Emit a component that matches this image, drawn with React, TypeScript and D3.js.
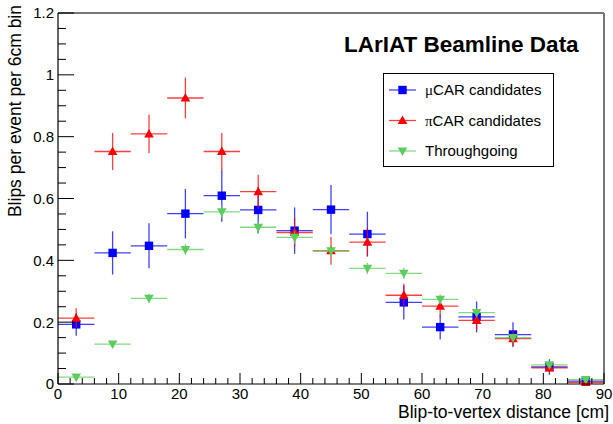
import React from "react";
import * as d3 from "d3";

const binEdges = [0, 6, 12, 18, 24, 30, 36, 42, 48, 54, 60, 66, 72, 78, 84, 90];
const binCenters = [3, 9, 15, 21, 27, 33, 39, 45, 51, 57, 63, 69, 75, 81, 87];

const muValues = [0.193, 0.424, 0.447, 0.551, 0.609, 0.563, 0.496, 0.564, 0.485, 0.264, 0.184, 0.217, 0.16, 0.055, 0.009];
const muErrors = [0.037, 0.07, 0.073, 0.08, 0.084, 0.075, 0.075, 0.08, 0.072, 0.055, 0.04, 0.05, 0.04, 0.025, 0.008];

const piValues = [0.213, 0.752, 0.809, 0.925, 0.752, 0.622, 0.49, 0.431, 0.459, 0.287, 0.252, 0.206, 0.147, 0.052, 0.005];
const piErrors = [0.032, 0.06, 0.063, 0.066, 0.06, 0.055, 0.047, 0.045, 0.047, 0.037, 0.033, 0.03, 0.025, 0.015, 0.006];

const thValues = [0.022, 0.129, 0.277, 0.435, 0.557, 0.507, 0.474, 0.431, 0.374, 0.358, 0.274, 0.231, 0.15, 0.062, 0.014];
const thErrors = [0.006, 0.01, 0.015, 0.018, 0.02, 0.02, 0.022, 0.02, 0.018, 0.018, 0.016, 0.014, 0.012, 0.008, 0.004];

const xTicks = [0, 10, 20, 30, 40, 50, 60, 70, 80, 90];
const yTicks = [0, 0.2, 0.4, 0.6, 0.8, 1, 1.2];
const yTickLabels = ["0", "0.2", "0.4", "0.6", "0.8", "1", "1.2"];

const seriesNames = ["\u03bcCAR candidates", "\u03c0CAR candidates", "Throughgoing"];
const titleText = "LArIAT Beamline Data";
const xTitle = "Blip-to-vertex distance [cm]";
const yTitle = "Blips per event per 6cm bin";

const W = 613;
const H = 424;
const L = 58;
const R = 604;
const T = 13;
const B = 384;

const FONT = "'Liberation Sans', Arial, Helvetica, sans-serif";
const COLORS = ["#0000ff", "#ff0000", "#5ccc5c"];

function Marker({ kind, x, y, color }: { kind: number; x: number; y: number; color: string }) {
  const s = 4.2;
  if (kind === 0) {
    return <rect x={x - s} y={y - s} width={2 * s} height={2 * s} fill={color} />;
  }
  if (kind === 1) {
    return <path d={`M${x},${y - s - 0.8}L${x + s + 0.6},${y + s - 0.6}L${x - s - 0.6},${y + s - 0.6}Z`} fill={color} />;
  }
  return <path d={`M${x},${y + s + 0.8}L${x + s + 0.6},${y - s + 0.6}L${x - s - 0.6},${y - s + 0.6}Z`} fill={color} />;
}

export default function App() {
  const x = d3.scaleLinear().domain([0, 90]).range([L, R]);
  const y = d3.scaleLinear().domain([0, 1.2]).range([B, T]);

  const series = [
    { vals: muValues, errs: muErrors },
    { vals: piValues, errs: piErrors },
    { vals: thValues, errs: thErrors },
  ];

  const xMinor = d3.range(0, 90.001, 2);
  const yMinor = d3.range(0, 1.2001, 0.05);

  return (
    <svg width={W} height={H} style={{ position: "absolute", left: 0, top: 0, background: "#fff" }} fontFamily={FONT}>
      <rect x={0} y={0} width={W} height={H} fill="#fff" />
      {series.map((s, si) => (
        <g key={si}>
          {s.vals.map((v, i) => {
            const c = COLORS[si];
            return (
              <g key={i}>
                <line x1={x(binEdges[i])} x2={x(binEdges[i + 1])} y1={y(v)} y2={y(v)} stroke={c} strokeWidth={1.3} strokeOpacity={0.75} />
                <line x1={x(binCenters[i])} x2={x(binCenters[i])} y1={y(v - s.errs[i])} y2={y(Math.min(v + s.errs[i], 1.2))} stroke={c} strokeWidth={1.3} strokeOpacity={0.75} />
                <Marker kind={si} x={x(binCenters[i])} y={y(v)} color={c} />
              </g>
            );
          })}
        </g>
      ))}
      <line x1={L} x2={R} y1={T} y2={T} stroke="#777" strokeWidth={2} />
      <line x1={R} x2={R} y1={T} y2={B} stroke="#777" strokeWidth={2} />
      <line x1={L} x2={L} y1={T} y2={B} stroke="#000" strokeWidth={1.2} />
      <line x1={L} x2={R} y1={B} y2={B} stroke="#000" strokeWidth={1.2} />
      {yMinor.map((t, i) => {
        const major = i % 4 === 0;
        return <line key={i} x1={L} x2={L + (major ? 16 : 8)} y1={y(t)} y2={y(t)} stroke="#000" strokeWidth={1} />;
      })}
      {yTicks.map((t, i) => (
        <text key={i} x={54} y={y(t)} dy="0.36em" textAnchor="end" fontSize={15} fill="#000">
          {yTickLabels[i]}
        </text>
      ))}
      {xMinor.map((t, i) => {
        const major = i % 5 === 0;
        return <line key={i} x1={x(t)} x2={x(t)} y1={B} y2={B - (major ? 11 : 6)} stroke="#000" strokeWidth={1} />;
      })}
      {xTicks.map((t, i) => (
        <text key={i} x={x(t)} y={399} textAnchor="middle" fontSize={15} fill="#000">
          {t}
        </text>
      ))}
      <text x={609} y={418} textAnchor="end" fontSize={17.5} fill="#000">{xTitle}</text>
      <text transform="translate(21,5) rotate(-90)" textAnchor="end" fontSize={17.5} fill="#000">{yTitle}</text>
      <text x={344} y={52} fontSize={22.5} fontWeight="bold" fill="#000">{titleText}</text>
      <rect x={383.5} y={73.5} width={170} height={93} fill="#fff" stroke="#000" strokeWidth={1} />
      {seriesNames.map((n, i) => {
        const ly = 90 + i * 30.5;
        const c = COLORS[i];
        return (
          <g key={i}>
            <line x1={389} x2={416} y1={ly} y2={ly} stroke={c} strokeWidth={1.3} strokeOpacity={0.75} />
            <Marker kind={i} x={402.5} y={ly} color={c} />
            <text x={425} y={ly} dy="0.36em" fontSize={15} fill="#000">
              {i < 2 ? (
                <>
                  <tspan fontFamily="'Liberation Serif', 'DejaVu Serif', serif">{n[0]}</tspan>
                  {n.slice(1)}
                </>
              ) : (
                n
              )}
            </text>
          </g>
        );
      })}
    </svg>
  );
}
